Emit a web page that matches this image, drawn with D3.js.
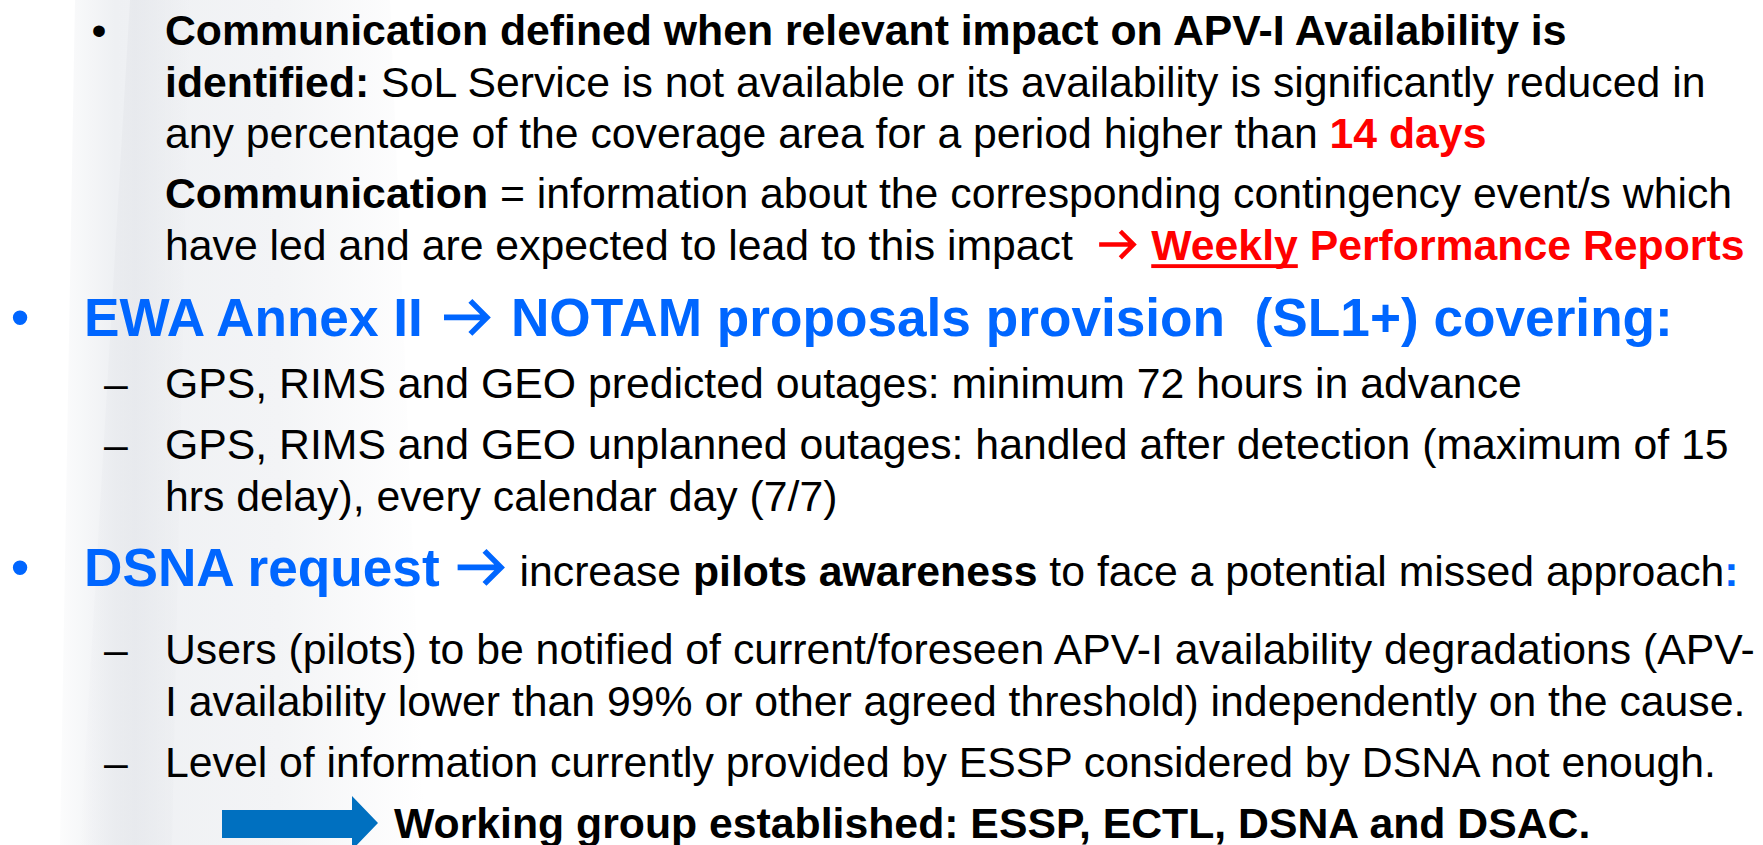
<!DOCTYPE html>
<html>
<head>
<meta charset="utf-8">
<script src="https://d3js.org/d3.v7.min.js"></script>
<style>
  html, body { margin: 0; padding: 0; background: #fff; overflow: hidden; }
  svg text { font-family: "Liberation Sans", Arial, sans-serif; white-space: pre; }
</style>
</head>
<body>
<script>
// slide text, one entry per paragraph; each line is a list of [text, style] runs
var markers = ["dot", "", "bigdot", "dash", "dash", "bigdot", "dash", "dash", "arrow"];

var paraLines = [
  [
    [["Communication defined when relevant impact on APV-I Availability is", "b"]],
    [["identified:", "b"], [" SoL Service is not available or its availability is significantly reduced in", "n"]],
    [["any percentage of the coverage area for a period higher than ", "n"], ["14 days", "r"]]
  ],
  [
    [["Communication", "b"], [" = information about the corresponding contingency event/s which", "n"]],
    [["have led and are expected to lead to this impact  ", "n"], ["", "ra"], [" ", "n"], ["Weekly", "ru"], [" Performance Reports", "r"]]
  ],
  [
    [["EWA Annex II ", "B"], ["", "Ba"], [" NOTAM proposals provision  (SL1+) covering:", "B"]]
  ],
  [
    [["GPS, RIMS and GEO predicted outages: minimum 72 hours in advance", "n"]]
  ],
  [
    [["GPS, RIMS and GEO unplanned outages: handled after detection (maximum of 15", "n"]],
    [["hrs delay), every calendar day (7/7)", "n"]]
  ],
  [
    [["DSNA request ", "B"], ["", "Bd"], [" increase ", "n"], ["pilots awareness", "b"], [" to face a potential missed approach", "n"], [":", "bc"]]
  ],
  [
    [["Users (pilots) to be notified of current/foreseen APV-I availability degradations (APV-", "n"]],
    [["I availability lower than 99% or other agreed threshold) independently on the cause.", "n"]]
  ],
  [
    [["Level of information currently provided by ESSP considered by DSNA not enough.", "n"]]
  ],
  [
    [["Working group established: ESSP, ECTL, DSNA and DSAC.", "b"]]
  ]
];

// layout
var W = 1763, H = 845;
var small = 42.75, big = 53.2;
var blue = "#0066ff", red = "#ff0000", boxBlue = "#0070c0";
var styles = {
  n:  {size: small, weight: "normal", fill: "#000"},
  b:  {size: small, weight: "bold", fill: "#000"},
  r:  {size: small, weight: "bold", fill: red},
  ru: {size: small, weight: "bold", fill: red, under: true},
  ra: {size: small, fill: red, arrow: [0.06, 0.94, 1.0]},
  B:  {size: big, weight: "bold", fill: blue},
  Ba: {size: big, fill: blue, arrow: [0.12, 1.0, 1.1]},
  Bd: {size: big, fill: blue, arrow: [0.06, 0.95, 1.0]},
  bc: {size: small, weight: "bold", fill: blue}
};
var firstBase = 45, lineStep = 51.5;
var paraGap = [0, 60, 76.5, 62, 61, 75.5, 78, 61.5, 61];
var textX = {dot: 165, "": 165, bigdot: 84, dash: 165, arrow: 394};

var svg = d3.select("body").append("svg")
    .attr("width", W)
    .attr("height", H);

// faint template stripes on the left
var defs = svg.append("defs");
var g1 = defs.append("linearGradient").attr("id", "fade").attr("x1", 0).attr("x2", 1);
g1.append("stop").attr("offset", 0).attr("stop-color", "#eef0f3").attr("stop-opacity", 0.2);
g1.append("stop").attr("offset", 0.15).attr("stop-color", "#eef0f3");
g1.append("stop").attr("offset", 0.6).attr("stop-color", "#f3f4f6");
g1.append("stop").attr("offset", 1).attr("stop-color", "#ffffff");
var g2 = defs.append("linearGradient").attr("id", "band").attr("x1", 0).attr("x2", 1);
g2.append("stop").attr("offset", 0).attr("stop-color", "#e6e8ec").attr("stop-opacity", 0);
g2.append("stop").attr("offset", 0.5).attr("stop-color", "#e6e8ec");
g2.append("stop").attr("offset", 1).attr("stop-color", "#e6e8ec").attr("stop-opacity", 0);

svg.append("path")
    .attr("d", "M75,0 L390,0 L425,845 L60,845 Z")
    .attr("fill", "url(#fade)");
svg.append("path")
    .attr("d", "M130,0 L190,0 L172,845 L80,845 Z")
    .attr("fill", "url(#band)")
    .attr("opacity", 0.8);

// chevron arrow like the Wingdings one; a = [ink left, ink right, advance] in em
function drawArrow(x, base, st) {
  var em = st.size, a = st.arrow, sw = 0.105 * em, h = 0.31 * em;
  var cy = base - 0.35 * em;
  var left = x + a[0] * em, tip = x + a[1] * em - sw * 0.71;
  svg.append("path")
      .attr("d", d3.line()([[left, cy], [tip, cy]]) + d3.line()([[tip - h, cy - h], [tip, cy], [tip - h, cy + h]]))
      .attr("fill", "none")
      .attr("stroke", st.fill)
      .attr("stroke-width", sw)
      .attr("stroke-linejoin", "miter");
  return a[2] * em;
}

function drawLine(runs, x, base) {
  runs.forEach(function(r) {
    var st = styles[r[1]];
    if (st.arrow) { x += drawArrow(x, base, st); return; }
    var t = svg.append("text")
        .attr("x", x)
        .attr("y", base)
        .attr("xml:space", "preserve")
        .style("font-size", st.size + "px")
        .style("font-weight", st.weight)
        .attr("fill", st.fill)
        .text(r[0]);
    var w = t.node().getComputedTextLength();
    if (st.under) {
      svg.append("rect")
          .attr("x", x).attr("y", base + 0.11 * st.size)
          .attr("width", w).attr("height", 0.09 * st.size)
          .attr("fill", st.fill);
    }
    x += w;
  });
}

var base = firstBase;
paraLines.forEach(function(lines, p) {
  if (p > 0) base += paraGap[p];
  var m = markers[p];
  if (m === "dot") {
    svg.append("text").attr("x", 99).attr("y", base).attr("text-anchor", "middle")
        .style("font-size", small + "px").text("\u2022");
  } else if (m === "bigdot") {
    svg.append("text").attr("x", 20).attr("y", base).attr("text-anchor", "middle")
        .style("font-size", big + "px").attr("fill", blue).text("\u2022");
  } else if (m === "dash") {
    svg.append("text").attr("x", 104).attr("y", base)
        .style("font-size", small + "px").text("\u2013");
  } else if (m === "arrow") {
    svg.append("path")
        .attr("d", d3.line()([[222, base - 28], [352, base - 28], [352, base - 42], [378, base - 15],
                              [352, base + 12], [352, base], [222, base]]) + "Z")
        .attr("fill", boxBlue);
  }
  lines.forEach(function(runs, i) {
    if (i > 0) base += lineStep;
    drawLine(runs, textX[m], base);
  });
});
</script>
</body>
</html>
